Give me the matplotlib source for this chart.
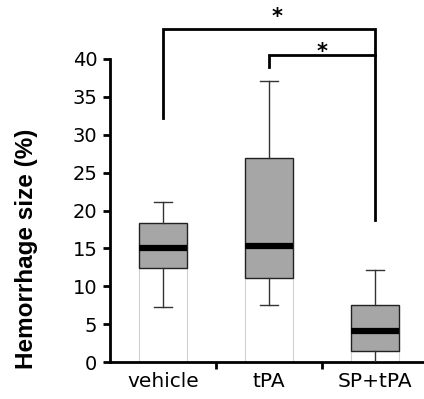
import matplotlib
matplotlib.use("Agg")
import matplotlib.pyplot as plt

categories = ["vehicle", "tPA", "SP+tPA"]
q1 = [12.4, 11.1, 1.5]
med = [15.1, 15.35, 4.1]
q3 = [18.3, 26.9, 7.5]
whislo = [7.2, 7.5, 0.0]
whishi = [21.1, 37.1, 12.2]
yticks = [0, 5, 10, 15, 20, 25, 30, 35, 40]
ylabel = "Hemorrhage size (%)"
# significance brackets: (left group, right group, bracket y, left leg end, right leg end)
brackets = [(0, 2, 44.0, 32.2, 18.7), (1, 2, 40.5, 38.9, 40.5)]
star_pos = [(1.08, 45.6), (1.5, 40.9)]

fig = plt.figure(figsize=(4.24, 3.99), dpi=100)
ax = fig.add_axes([110/424, 37/399, 318/424, 303/399])

pos = list(range(len(categories)))
w = 0.46
# faint base bars
ax.bar(pos, q1, width=w, facecolor="none", edgecolor="#d0d0d0", linewidth=0.8, zorder=1)

stats = []
for i in range(len(categories)):
    stats.append(dict(q1=q1[i], med=med[i], q3=q3[i], whislo=whislo[i], whishi=whishi[i], fliers=[]))
ax.bxp(stats, positions=pos, widths=w, patch_artist=True, showfliers=False,
       boxprops=dict(facecolor="#a6a6a6", edgecolor="#222222", linewidth=1.0),
       medianprops=dict(color="black", linewidth=4.5, solid_capstyle="butt"),
       whiskerprops=dict(color="#333333", linewidth=1.0),
       capprops=dict(color="#333333", linewidth=1.0), capwidths=0.17, zorder=3)

ax.set_xlim(-0.5, 2.5)
ax.set_ylim(0, 40)
ax.set_yticks(yticks)
ax.set_yticklabels([str(t) for t in yticks], fontsize=14, family="DejaVu Sans")
ax.set_xticks([0.5, 1.5])
ax.set_xticklabels([])
ax.tick_params(axis="both", width=2, length=5, direction="out")
ax.tick_params(axis="y", pad=4)
for i, c in enumerate(categories):
    ax.text(i, -1.3, c, ha="center", va="top", fontsize=14.5, family="DejaVu Sans")
for s in ["top", "right"]:
    ax.spines[s].set_visible(False)
for s in ["left", "bottom"]:
    ax.spines[s].set_linewidth(2)
fig.text(27/424, (399-249)/399, ylabel, rotation=90, ha="center", va="center",
         fontsize=17.5, fontweight="bold", family="Liberation Sans")

for (a, b, y, la, ra) in brackets:
    ax.plot([a, a, b, b], [la, y, y, ra], color="black", linewidth=2, clip_on=False,
            solid_joinstyle="miter", zorder=5)
for (x, y) in star_pos:
    ax.text(x, y, "*", ha="center", va="center", fontsize=15, fontweight="bold", clip_on=False)

fig.savefig("out.png", dpi=100)
